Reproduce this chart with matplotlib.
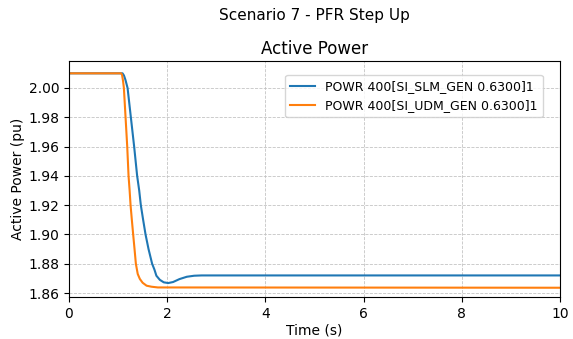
import matplotlib
matplotlib.use("Agg")
import matplotlib.pyplot as plt
import numpy as np

# values
t_slm = [0.0, 1.09, 1.12, 1.15, 1.193, 1.26, 1.327, 1.388, 1.43, 1.463, 1.51, 1.559, 1.62, 1.693,
         1.74, 1.78, 1.85, 1.93, 2.02, 2.12, 2.25, 2.40, 2.55, 2.70, 10.0]
p_slm = [2.0100, 2.0100, 2.0085, 2.0055, 2.0000, 1.9800, 1.9600, 1.9400, 1.9300, 1.9200, 1.9100,
         1.9000, 1.8900, 1.8800, 1.8760, 1.8718, 1.8690, 1.8673, 1.8668, 1.8675, 1.8695, 1.8711,
         1.8718, 1.8720, 1.8720]

t_udm = [0.0, 1.06, 1.08, 1.10, 1.118, 1.152, 1.186, 1.213, 1.235, 1.254, 1.28, 1.307, 1.335,
         1.362, 1.40, 1.443, 1.50, 1.58, 1.68, 1.81, 10.0]
p_udm = [2.0100, 2.0100, 2.0090, 2.0050, 2.0000, 1.9800, 1.9600, 1.9400, 1.9300, 1.9200, 1.9100,
         1.9000, 1.8900, 1.8800, 1.8730, 1.8696, 1.8670, 1.8650, 1.8643, 1.8638, 1.8636]

lab_slm = "POWR 400[SI_SLM_GEN 0.6300]1"
lab_udm = "POWR 400[SI_UDM_GEN 0.6300]1"

fig = plt.figure(figsize=(5.73, 3.39), dpi=100)
ax = fig.add_axes([0.1204, 0.124, 0.8569, 0.696])
ax.plot(t_slm, p_slm, color="#1f77b4", lw=1.5, label=lab_slm)
ax.plot(t_udm, p_udm, color="#ff7f0e", lw=1.5, label=lab_udm)

ax.set_xlim(0, 10)
ax.set_ylim(1.8573, 2.0184)
ax.set_xticks(np.arange(0, 11, 2))
ax.set_yticks(np.arange(1.86, 2.001, 0.02))
ax.yaxis.set_major_formatter(matplotlib.ticker.FormatStrFormatter("%.2f"))
ax.grid(True, linestyle="--", color="#c4c4c4", lw=0.6)
ax.set_xlabel("Time (s)", labelpad=2)
ax.set_ylabel("Active Power (pu)", labelpad=2)
ax.set_title("Active Power", pad=5)
fig.suptitle("Scenario 7 - PFR Step Up", fontsize=11, x=0.549, y=0.953, va="center")
ax.legend(loc="upper right", bbox_to_anchor=(0.965, 0.941), borderaxespad=0, fontsize=9)

fig.savefig("out.png", dpi=100)
